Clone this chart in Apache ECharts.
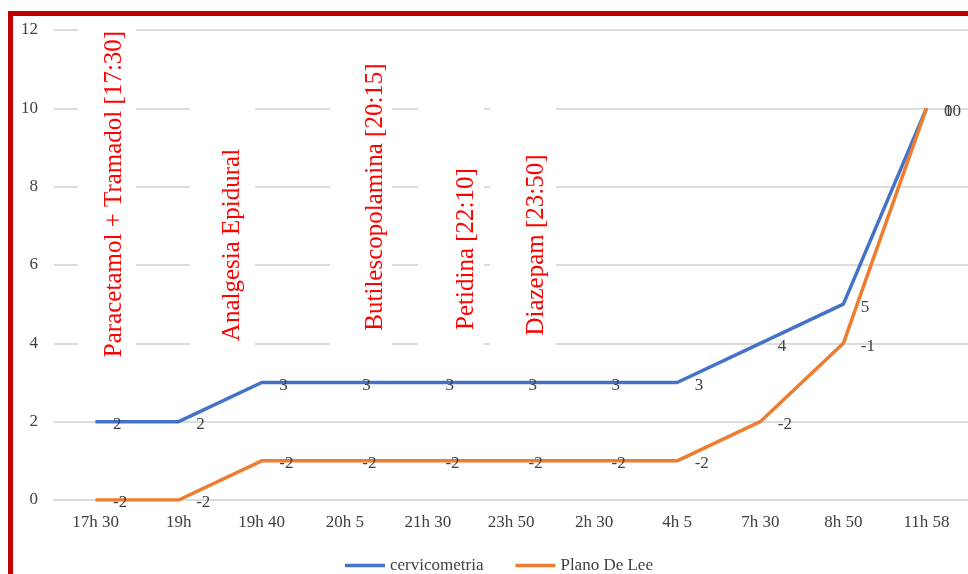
<!DOCTYPE html>
<html>
<head>
<meta charset="utf-8">
<script src="https://cdn.jsdelivr.net/npm/echarts@6/dist/echarts.min.js"></script>
<style>
  html, body { margin: 0; padding: 0; background: #ffffff; }
  #chart { width: 968px; height: 574px; }
</style>
</head>
<body>
<div id="chart"></div>
<script>
// Horas de registo
const categories = ['17h 30', '19h', '19h 40', '20h 5', '21h 30', '23h 50', '2h 30', '4h 5', '7h 30', '8h 50', '11h 58'];
// Dilatação cervical (cm)
const cervicometria = [2, 2, 3, 3, 3, 3, 3, 3, 4, 5, 10];
// Plano de De Lee (empilhado sobre a cervicometria)
const planoDeLee = [-2, -2, -2, -2, -2, -2, -2, -2, -2, -1, 0];
// Marcas do eixo vertical
const yTicks = [0, 2, 4, 6, 8, 10, 12];

// Medicação administrada
const medicacao = [
  'Paracetamol + Tramadol [17:30]',
  'Analgesia Epidural',
  'Butilescopolamina [20:15]',
  'Petidina [22:10]',
  'Diazepam [23:50]'
];

const SERIF = "'Liberation Serif', 'Times New Roman', serif";
const chart = echarts.init(document.getElementById('chart'), null, { renderer: 'canvas' });

// caixas de texto das anotações: [x0, x1, y0, y1, centro x do texto, centro y do texto]
const caixas = [
  [78, 136, 20, 362, 114, 194],
  [190, 255, 70, 362, 232, 245],
  [330, 392, 40, 362, 375, 197],
  [418, 484, 90, 362, 466, 249],
  [490, 556, 90, 362, 536, 245]
];

const graphics = [];
caixas.forEach((c, i) => {
  graphics.push({
    type: 'rect', z: 1, silent: true,
    shape: { x: c[0], y: c[2], width: c[1] - c[0], height: c[3] - c[2] },
    style: { fill: '#ffffff' }
  });
  graphics.push({
    type: 'text', z: 2, silent: true,
    x: c[4], y: c[5], rotation: Math.PI / 2,
    style: {
      text: medicacao[i], fill: '#ff0000',
      font: '25px ' + SERIF, align: 'center', verticalAlign: 'middle'
    }
  });
});
// moldura vermelha
graphics.push({
  type: 'rect', z: 10, silent: true,
  shape: { x: 10.5, y: 13.5, width: 1000, height: 620 },
  style: { fill: 'none', stroke: '#c00000', lineWidth: 5 }
});

const labelStyle = {
  show: true, position: 'right', distance: 17, offset: [0, 3],
  color: '#404040', fontFamily: SERIF, fontSize: 17
};

chart.setOption({
  backgroundColor: '#ffffff',
  animation: false,
  grid: { left: 54, right: -4, top: 30, bottom: 74, containLabel: false },
  legend: {
    left: 340, top: 552, icon: 'rect', itemWidth: 40, itemHeight: 3.5, itemGap: 32,
    textStyle: { color: '#404040', fontFamily: SERIF, fontSize: 17 },
    data: ['cervicometria', 'Plano De Lee']
  },
  xAxis: {
    type: 'category', data: categories, boundaryGap: true,
    axisLine: { show: true, lineStyle: { color: '#d9d9d9', width: 2 } },
    axisTick: { show: false },
    axisLabel: { color: '#404040', fontFamily: SERIF, fontSize: 17, margin: 14 }
  },
  yAxis: {
    type: 'value', min: yTicks[0], max: yTicks[yTicks.length - 1], interval: yTicks[1] - yTicks[0],
    axisLine: { show: false }, axisTick: { show: false },
    axisLabel: { color: '#404040', fontFamily: SERIF, fontSize: 17, margin: 16 },
    splitLine: { lineStyle: { color: '#dcdcdc', width: 2 } }
  },
  graphic: graphics,
  series: [
    {
      name: 'cervicometria', type: 'line', data: cervicometria,
      stack: 'total', stackStrategy: 'all',
      symbol: 'circle', symbolSize: 1,
      lineStyle: { color: '#4472c4', width: 3.5 },
      itemStyle: { color: '#4472c4' },
      label: labelStyle, z: 3
    },
    {
      name: 'Plano De Lee', type: 'line', data: planoDeLee,
      stack: 'total', stackStrategy: 'all',
      symbol: 'circle', symbolSize: 1,
      lineStyle: { color: '#ed7d31', width: 3.5 },
      itemStyle: { color: '#ed7d31' },
      label: labelStyle, z: 4
    }
  ]
});
</script>
</body>
</html>
